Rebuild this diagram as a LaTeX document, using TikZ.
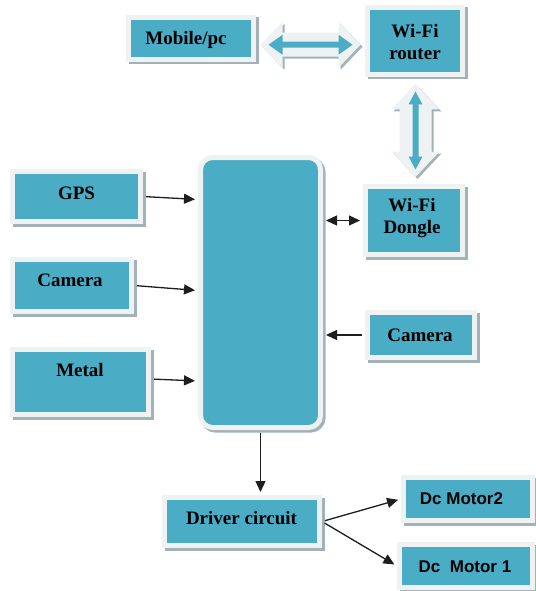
\documentclass[tikz,border=0pt]{standalone}
\usepackage{fontspec}
\setmainfont{Liberation Serif}
\newfontfamily\motorfont{Liberation Sans}
\usetikzlibrary{arrows.meta,shadows,calc}
\definecolor{aqua}{HTML}{4BACC6}
\definecolor{framec}{HTML}{EEF2F3}
\definecolor{shadec}{HTML}{A3B2B8}
\definecolor{linec}{HTML}{1E1E1E}

\begin{document}
\begin{tikzpicture}[x=1pt,y=-1pt,
  blk/.style={fill=aqua, draw=framec, line width=5pt, inner sep=0pt,
    drop shadow={shadow xshift=2.5pt, shadow yshift=-2.5pt, fill=shadec,
      draw=shadec, line width=5pt, opacity=1}},
  lbl/.style={font=\bfseries\fontsize{19}{22}\selectfont, align=center, inner sep=0pt},
  mlbl/.style={font=\motorfont\bfseries\fontsize{17}{19}\selectfont, inner sep=0pt},
  tip/.tip={Triangle[length=11pt,width=10pt]},
  wire/.style={draw=linec, line width=1.3pt, -tip, shorten >=3pt, shorten <=3pt},
  fatout/.style={fill=framec, drop shadow={shadow xshift=2pt, shadow yshift=-2pt,
      fill=shadec, opacity=1}},
  fatin/.style={fill=aqua}]

\useasboundingbox (0,0) rectangle (535,591);
\fill[white] (0,0) rectangle (535,591);

% blocks
\node[blk, minimum width=125pt, minimum height=42pt] (mob) at (191,38.5) {};
\node[blk, minimum width=95pt, minimum height=67pt] (router) at (415,41) {};
\node[blk, minimum width=128pt, minimum height=50pt] (gps) at (76.5,196.5) {};
\node[blk, minimum width=119pt, minimum height=52pt] (caml) at (72,285.5) {};
\node[blk, minimum width=136pt, minimum height=65pt] (metal) at (80.5,382) {};
\node[blk, rounded corners=12pt, minimum width=120pt, minimum height=270pt] (main) at (260.5,292.5) {};
\node[blk, minimum width=97pt, minimum height=68pt] (dongle) at (414,220.5) {};
\node[blk, minimum width=107pt, minimum height=45pt] (camr) at (421,335) {};
\node[blk, minimum width=155pt, minimum height=48pt] (driver) at (242,521.5) {};
\node[blk, minimum width=129pt, minimum height=43pt] (m2) at (468,499) {};
\node[blk, minimum width=133pt, minimum height=43pt] (m1) at (466,566) {};

% labels
\node[lbl] (mob-t) at (186,40) {Mobile/pc};
\node[lbl] (router-t) at (415,42) {Wi-Fi\\router};
\node[lbl] (gps-t) at (76.5,193) {GPS};
\node[lbl] (caml-t) at (70,280) {Camera};
\node[lbl] (metal-t) at (80,370) {Metal};
\node[lbl] (dongle-t) at (412,218) {Wi-Fi\\Dongle};
\node[lbl] (camr-t) at (420,335) {Camera};
\node[lbl] (driver-t) at (241.5,518) {Driver circuit};
\node[mlbl] (m2-t) at (461.5,499) {Dc Motor2};
\node[mlbl] (m1-t) at (465,567) {Dc\ \ Motor 1};

% wide two-way arrows of the wireless link
\coordinate (hlink) at ($(mob.east)!0.5!(router.west)+(0,5)$);
\begin{scope}[shift={(hlink)}]
  \fill[fatout] (-50,0) -- (-28,-23) -- (-28,-12) -- (28,-12) -- (28,-23) -- (50,0)
    -- (28,23) -- (28,12) -- (-28,12) -- (-28,23) -- cycle;
  \fill[fatin] (-42,0) -- (-28,-10) -- (-28,-3) -- (28,-3) -- (28,-10) -- (42,0)
    -- (28,10) -- (28,3) -- (-28,3) -- (-28,10) -- cycle;
\end{scope}
\coordinate (vlink) at ($(router.south)!0.5!(dongle.north)+(1,0)$);
\begin{scope}[shift={(vlink)}]
  \fill[fatout] (0,-46.5) -- (24,-21) -- (16,-21) -- (16,21) -- (24,21) -- (0,46.5)
    -- (-24,21) -- (-16,21) -- (-16,-21) -- (-24,-21) -- cycle;
  \fill[fatin] (0,-39) -- (7,-26) -- (3,-26) -- (3,26) -- (7,26) -- (0,39)
    -- (-7,26) -- (-3,26) -- (-3,-26) -- (-7,-26) -- cycle;
\end{scope}

% signal connectors
\draw[wire] (gps.east) -- ([yshift=-3pt]main.west |- gps.east);
\draw[wire] (caml.east) -- ([yshift=-5pt]main.west |- caml.east);
\draw[wire] ([yshift=3pt]metal.east) -- ([yshift=1pt]main.west |- metal.east);
\draw[wire, tip-tip] (main.east |- dongle.west) -- (dongle.west);
\draw[wire] (camr.west) -- (main.east |- camr.west);
\draw[wire] (main.south) -- (main.south |- driver.north);
\draw[wire] (driver.east) -- (m2.west);
\draw[wire] (driver.east) -- (m1.west);
\end{tikzpicture}
\end{document}
